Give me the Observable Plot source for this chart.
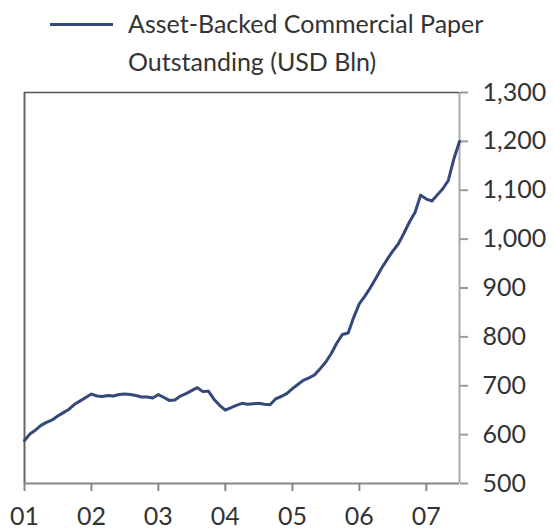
<!DOCTYPE html>
<html>
<head>
<meta charset="utf-8">
<script src="https://cdn.jsdelivr.net/npm/d3@7"></script>
<script src="https://cdn.jsdelivr.net/npm/@observablehq/plot@0.6"></script>
<style>
  html, body { margin: 0; padding: 0; background: #fff; }
  body { width: 555px; height: 531px; overflow: hidden; font-family: Lato, "Open Sans", sans-serif; }
  #legend { position: relative; height: 66px; }
  #legend .swatch { position: absolute; left: 50px; top: 23px; width: 63px; height: 3px; background: #34487c; }
  #legend .label { position: absolute; left: 128px; top: 4px; font-size: 25px; line-height: 38px; color: #333; white-space: nowrap; }
  #chart svg { display: block; overflow: visible; }
</style>
</head>
<body>
<div id="legend"><div class="swatch"></div><div class="label">Asset-Backed Commercial Paper<br>Outstanding (USD Bln)</div></div>
<div id="chart"></div>
<script>
const seriesName = "Asset-Backed Commercial Paper Outstanding (USD Bln)";
const startMonth = "2001-01-01";
const endMonth = "2007-07-01";
// monthly values, Jan 2001 .. Jul 2007 (USD bn)
const values = [
  588, 602, 609, 619, 625, 630, 638, 645, 652, 662, 669, 676,   // 2001
  683, 679, 678, 680, 679, 682, 683, 682, 680, 677, 677, 675,   // 2002
  682, 676, 670, 671, 679, 684, 690, 696, 688, 689, 672, 660,   // 2003
  650, 655, 660, 664, 662, 663, 664, 662, 661, 673, 678, 684,   // 2004
  694, 703, 711, 716, 722, 735, 748, 766, 788, 805, 808, 840,   // 2005
  868, 884, 900, 920, 940, 958, 975, 990, 1012, 1035, 1055, 1090, // 2006
  1082, 1078, 1090, 1103, 1120, 1165, 1200                      // 2007
];
const yDomain = [500, 1300];
const yTicks = [500, 600, 700, 800, 900, 1000, 1100, 1200, 1300];
const xTickYears = ["2001", "2002", "2003", "2004", "2005", "2006", "2007"];
const xTickLabels = ["01", "02", "03", "04", "05", "06", "07"];

const start = new Date(startMonth);
const end = new Date(endMonth);
const months = d3.utcMonth.range(start, d3.utcMonth.offset(end, 1));
const data = months.map((d, i) => ({date: d, value: values[i]}));
const xTicks = xTickYears.map(y => new Date(y + "-01-01"));
const labelOf = new Map(xTicks.map((d, i) => [+d, xTickLabels[i]]));

const chart = Plot.plot({
  width: 555,
  height: 465,
  marginTop: 26,
  marginBottom: 48,
  marginLeft: 24,
  marginRight: 96,
  style: { fontFamily: "Lato, 'Open Sans', sans-serif", fontSize: "25px", color: "#333", background: "#fff" },
  x: { type: "utc", domain: [start, end] },
  y: { domain: yDomain },
  marks: [
    Plot.ruleX([start], { stroke: "#666", strokeWidth: 2 }),
    Plot.ruleX([end], { stroke: "#aaa", strokeWidth: 2 }),
    Plot.ruleY([yDomain[1]], { stroke: "#555", strokeWidth: 1.5 }),
    Plot.ruleY([yDomain[0]], { stroke: "#888", strokeWidth: 2 }),
    Plot.axisX({
      ticks: xTicks, tickSize: 8, tickPadding: 16, stroke: "#888", strokeWidth: 2,
      tickFormat: d => labelOf.get(+d), label: null, fill: "#333"
    }),
    Plot.axisY({
      anchor: "right", ticks: yTicks, tickSize: 8, tickPadding: 15, stroke: "#999", strokeWidth: 2,
      tickFormat: d3.format(","), label: null, fill: "#333"
    }),
    Plot.lineY(data, { x: "date", y: "value", stroke: "#34487c", strokeWidth: 3, title: () => seriesName })
  ]
});
document.getElementById("chart").appendChild(chart);
</script>
</body>
</html>
